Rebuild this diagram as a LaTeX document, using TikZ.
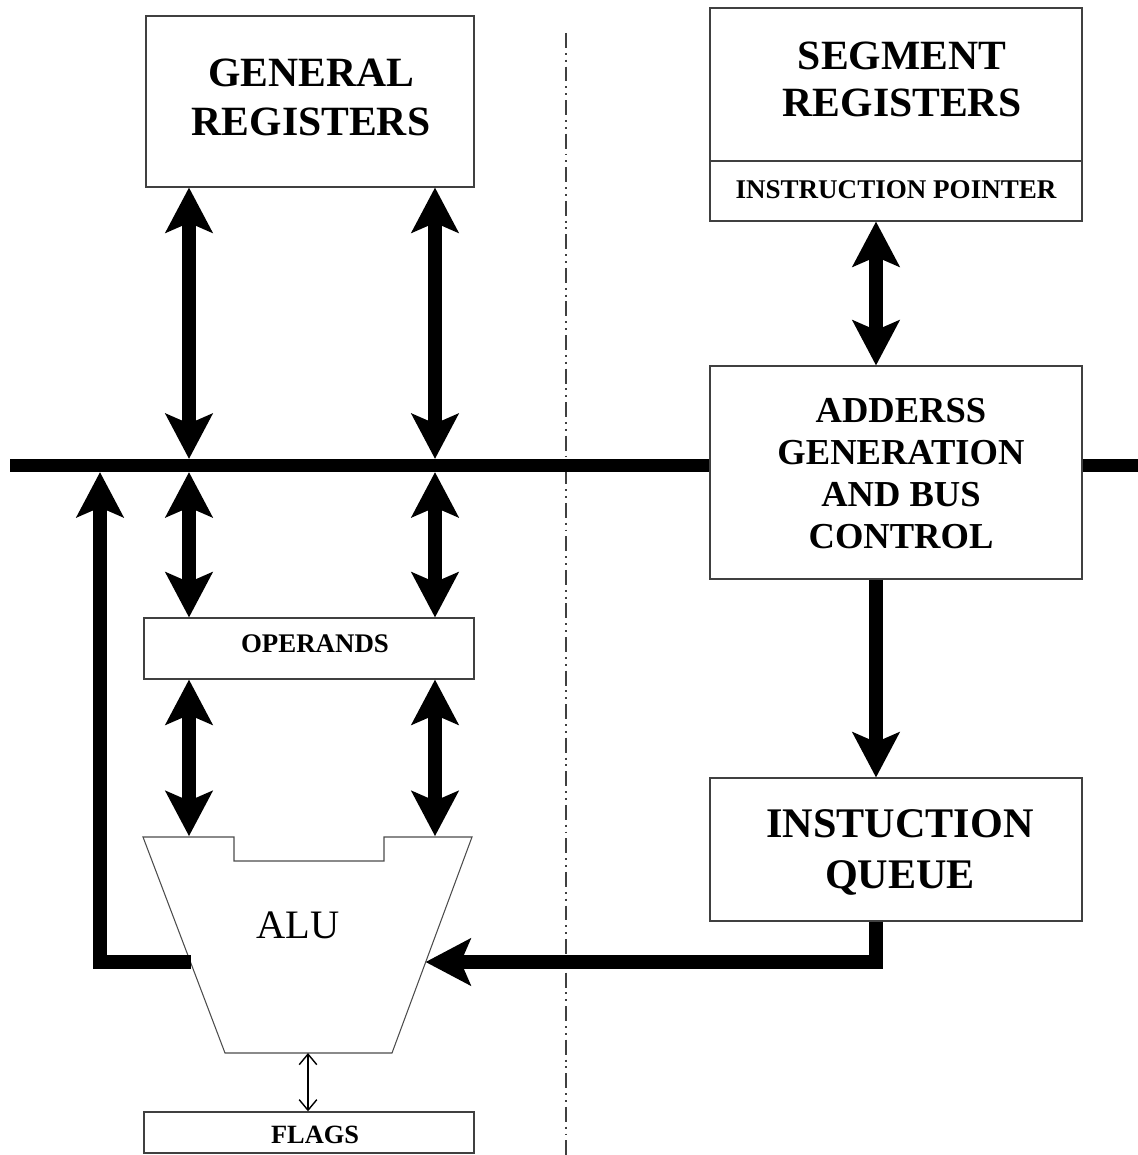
\documentclass[tikz,border=0pt]{standalone}
\usepackage{fontspec}
\setmainfont{Liberation Serif}
\usetikzlibrary{arrows.meta}
\begin{document}
\begin{tikzpicture}[x=0.02cm,y=-0.02cm,
  box/.style={draw=black!75, line width=0.8pt, inner sep=0pt},
  txt/.style={align=center, inner sep=0pt, text=black},
  bus/.style={line width=7.6pt},
  dbl/.style={line width=7.6pt,
    {Stealth[length=26pt,width=27.5pt,inset=6pt,line width=0pt]}-{Stealth[length=26pt,width=27.5pt,inset=6pt,line width=0pt]}},
  sgl/.style={line width=7.6pt, -{Stealth[length=26pt,width=27.5pt,inset=6pt,line width=0pt]}},
  thinarrow/.style={line width=0.8pt, {Straight Barb[length=6pt,width=10pt]}-{Straight Barb[length=6pt,width=10pt]}},
  alushape/.style={draw=black!70, line width=0.6pt},
  divider/.style={draw=black!75, line width=1.1pt,
    dash pattern=on 8.5pt off 2.8pt on 1.1pt off 2.8pt on 1.1pt off 2.8pt}
]
\useasboundingbox (0,0) rectangle (1138,1155);

% separation between the two units
\draw[divider] (566,33) -- (566,1155);

% boxes
\node[box, minimum width=6.56cm, minimum height=3.42cm] (gr) at (310,101.5) {};
\node[box, minimum width=7.44cm, minimum height=3.06cm] (seg) at (896,84.5) {};
\node[box, minimum width=7.44cm, minimum height=1.2cm] (ip) at (896,191) {};
\node[box, minimum width=7.44cm, minimum height=4.26cm] (ag) at (896,472.5) {};
\node[box, minimum width=7.44cm, minimum height=2.86cm] (iq) at (896,849.5) {};
\node[box, minimum width=6.6cm, minimum height=1.22cm] (ops) at (309,648.5) {};
\node[box, minimum width=6.6cm, minimum height=0.82cm] (flags) at (309,1132.5) {};

% box captions
\node[txt, font=\bfseries\fontsize{23.7}{27.8}\selectfont] (grtext)
  at ([xshift=0.02cm,yshift=0.08cm]gr.center) {GENERAL\\REGISTERS};
\node[txt, font=\bfseries\fontsize{23.7}{27.2}\selectfont] (segtext)
  at ([xshift=0.12cm,yshift=0.1cm]seg.center) {SEGMENT\\REGISTERS};
\node[txt, font=\bfseries\fontsize{15.4}{18}\selectfont] (iptext)
  at ([yshift=0.02cm]ip.center) {INSTRUCTION POINTER};
\node[txt, font=\bfseries\fontsize{20.8}{23.8}\selectfont] (agtext)
  at ([xshift=0.1cm,yshift=-0.02cm]ag.center) {ADDERSS\\GENERATION\\AND BUS\\CONTROL};
\node[txt, font=\bfseries\fontsize{24}{29.5}\selectfont] (iqtext)
  at ([xshift=0.08cm,yshift=-0.06cm]iq.center) {INSTUCTION\\QUEUE};
\node[txt, font=\bfseries\fontsize{15.3}{18}\selectfont] (opstext)
  at ([xshift=0.12cm,yshift=0.1cm]ops.center) {OPERANDS};
\node[txt, font=\bfseries\fontsize{15}{18}\selectfont] (flagstext)
  at ([xshift=0.12cm,yshift=-0.05cm]flags.center) {FLAGS};

% ALU outline
\draw[alushape] (143,837) -- (234,837) -- (234,861) -- (384,861) -- (384,837)
  -- (472,837) -- (392,1053) -- (225,1053) -- cycle;
\node[font=\fontsize{23}{27}\selectfont] (alu) at (298,925) {ALU};

% connection points
\coordinate (busL) at (10,465.5);
\coordinate (busR) at (1138,465.5);
\coordinate (tapA) at (189,465.5);
\coordinate (tapB) at (435,465.5);
\coordinate (tapF) at (100,465.5);
\coordinate (aluInA) at (189,836);
\coordinate (aluInB) at (435,836);
\coordinate (aluL) at (190.5,962);
\coordinate (aluR) at (425.7,962);
\coordinate (aluB) at (308,1053);
\coordinate (qx) at (876,0);

% internal bus
\draw[bus] (busL) -- (busL -| ag.west);
\draw[bus] (busR -| ag.east) -- (busR);

% register and operand transfers
\draw[dbl] (gr.south -| tapA) -- ([yshift=0.135cm]tapA);
\draw[dbl] (gr.south -| tapB) -- ([yshift=0.135cm]tapB);
\draw[dbl] ([yshift=-0.135cm]tapA) -- (ops.north -| tapA);
\draw[dbl] ([yshift=-0.135cm]tapB) -- (ops.north -| tapB);
\draw[dbl] (ops.south -| tapA) -- (aluInA);
\draw[dbl] (ops.south -| tapB) -- (aluInB);

% bus interface unit paths
\draw[dbl] (ip.south -| qx) -- (ag.north -| qx);
\draw[sgl] (ag.south -| qx) -- (iq.north -| qx);
\draw[sgl] (iq.south -| qx) |- (aluR);

% ALU result back to the bus
\draw[sgl] (aluL) -| ([yshift=-0.135cm]tapF);

% flags
\draw[thinarrow] (aluB) -- (flags.north -| aluB);
\end{tikzpicture}
\end{document}
